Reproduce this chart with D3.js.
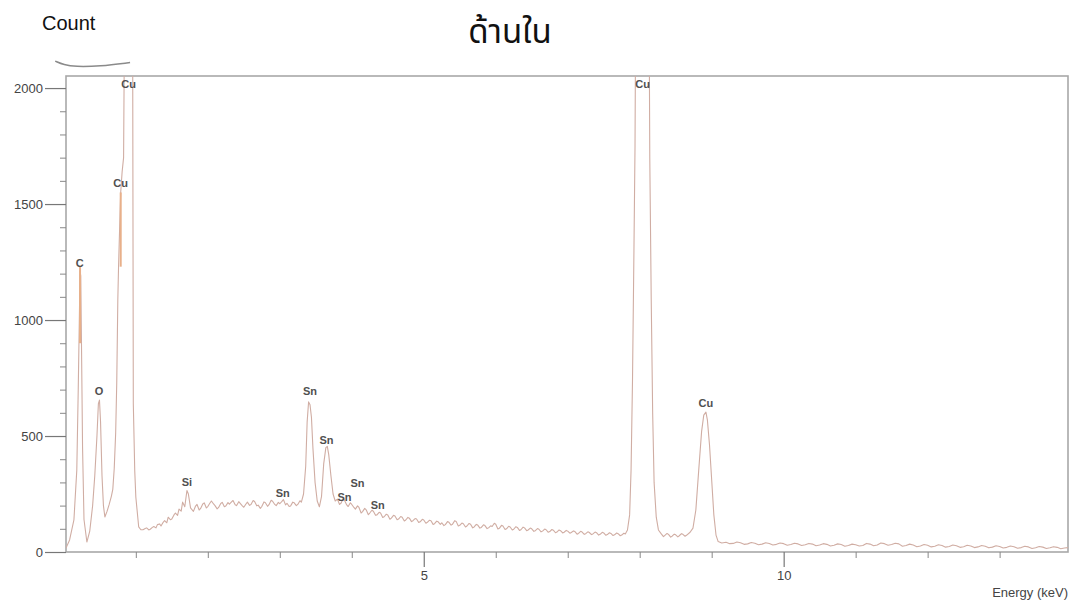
<!DOCTYPE html>
<html>
<head>
<meta charset="utf-8">
<script src="https://cdn.jsdelivr.net/npm/d3@7"></script>
<style>
  body { margin: 0; background: #fff; }
  text { font-family: "Liberation Sans", Arial, sans-serif; }
</style>
</head>
<body>
<svg id="chart" width="1073" height="605"></svg>
<script>
// EDS spectrum, energy (keV) vs count
let spectrum = [
    [0.03,17],[0.08,52],[0.14,138],[0.18,353],[0.20,700],[0.215,1000],[0.225,1210],[0.235,1190],
    [0.245,900],[0.26,450],[0.28,140],[0.32,43],[0.36,90],[0.40,200],[0.43,330],[0.46,500],
    [0.48,640],[0.495,655],[0.51,560],[0.53,330],[0.55,200],[0.57,151],[0.60,175],[0.63,205],
    [0.66,240],[0.68,270],[0.70,360],[0.72,513],[0.735,730],[0.75,1090],[0.76,1230],[0.78,1450],
    [0.79,1550],[0.81,1640],[0.83,1700],[0.845,2400],[0.90,2400],[0.955,2400],[0.965,640],[0.985,350],
    [1.0,237],[1.04,108],[1.07,96],
    [1.10,96],[1.13,101],[1.15,104],[1.18,95],[1.20,98],[1.23,106],[1.25,110],[1.28,104],[1.30,118],[1.33,121],[1.35,112],
    [1.38,128],[1.40,135],[1.43,126],[1.45,150],[1.48,139],[1.50,142],[1.53,160],[1.55,168],[1.58,158],[1.60,185],[1.63,176],
    [1.65,215],[1.68,195],[1.71,265],[1.73,250],[1.76,190],
    [1.80,175],[1.83,198],[1.85,205],[1.88,181],[1.90,188],[1.93,207],[1.95,212],[1.98,190],[2.00,196],[2.03,211],[2.05,220],
    [2.08,207],[2.10,200],[2.13,186],[2.15,192],[2.18,209],[2.20,214],[2.23,195],[2.25,198],[2.28,213],[2.30,206],[2.33,216],
    [2.35,222],[2.38,204],[2.40,200],[2.43,217],[2.45,210],[2.48,199],[2.50,193],[2.53,207],[2.55,215],[2.58,201],
    [2.60,205],[2.63,222],[2.65,218],[2.68,199],[2.70,202],[2.73,188],[2.75,196],[2.78,216],[2.80,212],[2.83,197],[2.85,204],
    [2.88,223],[2.90,219],[2.93,205],[2.95,200],[2.98,214],
    [3.00,208],[3.03,218],[3.05,226],[3.08,203],[3.10,210],[3.13,196],[3.15,198],[3.18,215],[3.20,212],[3.23,200],[3.25,205],
    [3.28,221],[3.30,215],
    [3.33,250],[3.36,370],[3.38,560],[3.40,647],[3.42,635],[3.44,580],[3.46,450],[3.49,300],
    [3.52,220],[3.55,195],[3.58,240],[3.61,380],[3.64,450],[3.66,455],[3.68,420],[3.71,330],
    [3.74,250],[3.77,220],[3.80,228],[3.83,205],[3.85,210],[3.88,230],[3.90,222],[3.93,203],[3.95,196],[3.98,212],[4.00,205],
    [4.03,192],[4.05,185],[4.08,199],[4.10,192],[4.13,168],[4.15,174],[4.18,188],[4.20,182],[4.23,161],[4.25,168],[4.28,180],
    [4.30,176],[4.33,158],[4.35,160],[4.38,171],[4.40,168],[4.43,149],[4.45,152],[4.48,163],[4.50,160],[4.53,141],[4.55,146],
    [4.58,158],[4.60,155],[4.63,139],[4.65,142],[4.68,153],[4.70,150],[4.73,134],[4.75,138],[4.78,149],[4.80,146],[4.83,131],
    [4.85,135],[4.88,144],[4.90,142],[4.93,127],[4.95,130],[4.98,141],[5.00,138],[5.03,124],[5.05,128],[5.08,137],[5.10,135],
    [5.13,119],[5.15,122],[5.18,133],[5.20,130],[5.23,119],[5.25,126],[5.28,114],[5.30,118],[5.33,131],[5.35,128],[5.38,116],
    [5.40,120],[5.43,135],[5.45,132],[5.48,112],[5.50,115],[5.53,125],[5.55,122],[5.58,108],[5.60,112],[5.63,123],[5.65,120],
    [5.68,104],[5.70,108],[5.73,119],[5.75,116],[5.78,103],[5.80,106],[5.83,117],[5.85,114],[5.88,101],[5.90,104],[5.93,113],
    [5.95,110],[5.98,124],[6.00,120],[6.03,99],[6.05,102],[6.08,115],[6.10,112],[6.13,97],[6.15,100],[6.18,111],[6.20,108],
    [6.23,95],[6.25,98],[6.28,109],[6.30,106],[6.33,93],[6.35,96],[6.38,107],[6.40,104],[6.43,92],[6.45,95],[6.48,103],
    [6.50,100],[6.53,89],[6.55,92],[6.58,101],[6.60,98],[6.63,87],[6.65,90],[6.68,99],[6.70,96],[6.73,85],[6.75,88],
    [6.78,97],[6.80,94],[6.83,83],[6.85,86],[6.88,95],[6.90,92],[6.93,82],[6.95,85],[6.98,93],[7.00,90],[7.03,81],
    [7.05,84],[7.08,91],[7.10,88],[7.13,77],[7.15,80],[7.18,89],[7.20,86],[7.23,76],[7.25,79],[7.28,87],[7.30,84],
    [7.33,75],[7.35,78],[7.38,86],[7.40,83],[7.43,73],[7.45,76],[7.48,85],[7.50,82],[7.53,72],[7.55,75],[7.58,83],
    [7.60,80],[7.63,71],[7.65,74],[7.68,82],[7.70,79],[7.73,70],[7.75,73],[7.78,81],[7.80,78],
    [7.83,95],[7.86,160],[7.88,353],[7.90,740],[7.92,1300],[7.935,1750],[7.945,2400],[8.13,2400],
    [8.14,1700],[8.16,1090],[8.18,600],[8.20,300],[8.23,150],[8.26,95],[8.30,78],[8.33,66],[8.35,72],
    [8.38,80],[8.40,76],[8.43,64],[8.45,68],[8.48,77],[8.50,74],[8.53,65],[8.55,70],[8.58,79],[8.60,76],[8.63,68],[8.65,72],
    [8.70,85],[8.74,103],
    [8.78,181],[8.82,353],[8.86,520],[8.89,590],[8.92,603],[8.94,570],[8.97,460],[9.00,310],
    [9.03,160],[9.06,73],[9.09,45],[9.14,39],[9.2,42],[9.25,36],[9.3,37],[9.35,43],[9.4,40],[9.45,33],[9.5,35],
    [9.55,41],[9.6,38],[9.65,31],[9.7,34],[9.75,40],[9.8,37],[9.85,30],[9.9,33],[9.95,39],[10.0,36],[10.05,29],[10.1,32],
    [10.15,38],[10.2,35],[10.25,28],[10.3,31],[10.35,37],[10.4,34],[10.45,27],[10.5,30],[10.55,36],[10.6,33],[10.65,26],
    [10.7,29],[10.75,35],[10.8,32],[10.85,25],[10.9,28],[10.95,34],[11.0,31],[11.05,26],[11.1,28],[11.15,37],[11.2,34],
    [11.25,27],[11.3,30],[11.35,39],[11.4,36],[11.45,29],[11.5,32],[11.55,38],[11.6,35],[11.65,25],[11.7,28],[11.75,34],
    [11.8,30],[11.85,23],[11.9,26],[11.95,32],[12.0,29],[12.05,22],[12.1,25],[12.15,31],[12.2,28],[12.25,21],[12.3,24],
    [12.35,30],[12.4,27],[12.45,20],[12.5,23],[12.55,29],[12.6,26],[12.65,19],[12.7,22],[12.75,28],[12.8,25],[12.85,18],
    [12.9,21],[12.95,27],[13.0,24],[13.05,17],[13.1,20],[13.15,26],[13.2,23],[13.25,16],[13.3,19],[13.35,25],[13.4,22],
    [13.45,15],[13.5,18],[13.55,24],[13.6,21],[13.65,15],[13.7,18],[13.75,23],[13.8,20],[13.85,14],[13.9,17],[13.95,19]
];

// orange-tinted stretches of the trace: energy, count from, count to
let highlights = [[0.225, 900, 1230], [0.79, 1230, 1550]];

let peak_names = ["C", "O", "Cu", "Cu", "Si", "Sn", "Sn", "Sn", "Sn", "Sn", "Sn", "Cu", "Cu"];
let peak_energy = [0.22, 0.49, 0.79, 0.90, 1.71, 3.04, 3.42, 3.65, 4.08, 3.90, 4.36, 8.04, 8.92];
let peak_count = [1246, 694, 1590, 2017, 302, 254, 694, 483, 297, 237, 203, 2017, 642];

let y_major = [0, 500, 1000, 1500, 2000];
let y_minor = [100, 200, 300, 400, 600, 700, 800, 900, 1100, 1200, 1300, 1400, 1600, 1700, 1800, 1900];
let x_major = [5, 10];
let x_minor = [1, 2, 3, 4, 6, 7, 8, 9, 11, 12, 13];

// pen stroke under the "Count" label (keV, count)
let scribble = [[-0.12, 2116], [0.0, 2100], [0.155, 2092], [0.5, 2094], [0.92, 2110]];

let svg = d3.select("#chart");

let x = d3.scaleLinear().domain([0.03, 13.95]).range([66, 1068]);
let y = d3.scaleLinear().domain([0, 2052]).range([552, 76]);

svg.append("defs").append("clipPath").attr("id", "plotclip")
    .append("rect")
    .attr("x", x.range()[0]).attr("y", y.range()[1])
    .attr("width", x.range()[1] - x.range()[0])
    .attr("height", y.range()[0] - y.range()[1]);

// frame
svg.append("rect")
    .attr("x", x.range()[0]).attr("y", y.range()[1])
    .attr("width", x.range()[1] - x.range()[0])
    .attr("height", y.range()[0] - y.range()[1])
    .attr("fill", "none")
    .attr("stroke", "#a8a8a8")
    .attr("stroke-width", 1.6);

// y axis
let yMajor = svg.append("g")
    .attr("transform", "translate(" + x.range()[0] + ",0)")
    .call(d3.axisLeft(y).tickValues(y_major).tickSize(21).tickPadding(2).tickFormat(d3.format("d")))
    .call(g => g.select(".domain").remove());
yMajor.selectAll("line").attr("stroke", "#777").attr("stroke-width", 1.2);
yMajor.selectAll("text").attr("fill", "#444").style("font-size", "13px");

svg.append("g")
    .attr("transform", "translate(" + x.range()[0] + ",0)")
    .call(d3.axisLeft(y).tickValues(y_minor).tickSize(6).tickFormat(""))
    .call(g => g.select(".domain").remove())
    .selectAll("line").attr("stroke", "#888");

// x axis
let xMajor = svg.append("g")
    .attr("transform", "translate(0," + y.range()[0] + ")")
    .call(d3.axisBottom(x).tickValues(x_major).tickSize(15).tickPadding(4))
    .call(g => g.select(".domain").remove());
xMajor.selectAll("line").attr("stroke", "#777").attr("stroke-width", 1.2);
xMajor.selectAll("text").attr("fill", "#444").style("font-size", "13px");

svg.append("g")
    .attr("transform", "translate(0," + y.range()[0] + ")")
    .call(d3.axisBottom(x).tickValues(x_minor).tickSize(6).tickFormat(""))
    .call(g => g.select(".domain").remove())
    .selectAll("line").attr("stroke", "#888");

// spectrum trace
let line = d3.line().x(d => x(d[0])).y(d => y(d[1]));

svg.append("path")
    .datum(spectrum)
    .attr("clip-path", "url(#plotclip)")
    .attr("d", line)
    .attr("fill", "none")
    .attr("stroke", "#d0ada3")
    .attr("stroke-width", 1.1)
    .attr("stroke-linejoin", "round");

svg.append("g").selectAll("line").data(highlights).join("line")
    .attr("x1", d => x(d[0])).attr("x2", d => x(d[0]))
    .attr("y1", d => y(d[1])).attr("y2", d => y(d[2]))
    .attr("stroke", "#e8b08a")
    .attr("stroke-width", 2);

// peak labels
svg.append("g").selectAll("text").data(peak_names).join("text")
    .attr("x", (d, i) => x(peak_energy[i]))
    .attr("y", (d, i) => y(peak_count[i]))
    .attr("text-anchor", "middle")
    .attr("dominant-baseline", "central")
    .style("font-size", "11px")
    .style("font-weight", "bold")
    .attr("fill", "#505050")
    .text(d => d);

// titles
svg.append("text")
    .attr("x", 42).attr("y", 30)
    .style("font-size", "20px")
    .attr("fill", "#111")
    .text("Count");

svg.append("text")
    .attr("x", 510).attr("y", 43)
    .attr("text-anchor", "middle")
    .style("font-family", "'Noto Sans Thai', 'Loma', 'Garuda', 'Tahoma', sans-serif")
    .style("font-size", "33px")
    .attr("fill", "#111")
    .text("ด้านใน");

svg.append("text")
    .attr("x", 1068).attr("y", 597)
    .attr("text-anchor", "end")
    .style("font-size", "13px")
    .attr("fill", "#444")
    .text("Energy (keV)");

svg.append("path")
    .datum(scribble)
    .attr("d", d3.line().curve(d3.curveBasis).x(d => x(d[0])).y(d => y(d[1])))
    .attr("fill", "none")
    .attr("stroke", "#8a8a8a")
    .attr("stroke-width", 1.5);
</script>
</body>
</html>
